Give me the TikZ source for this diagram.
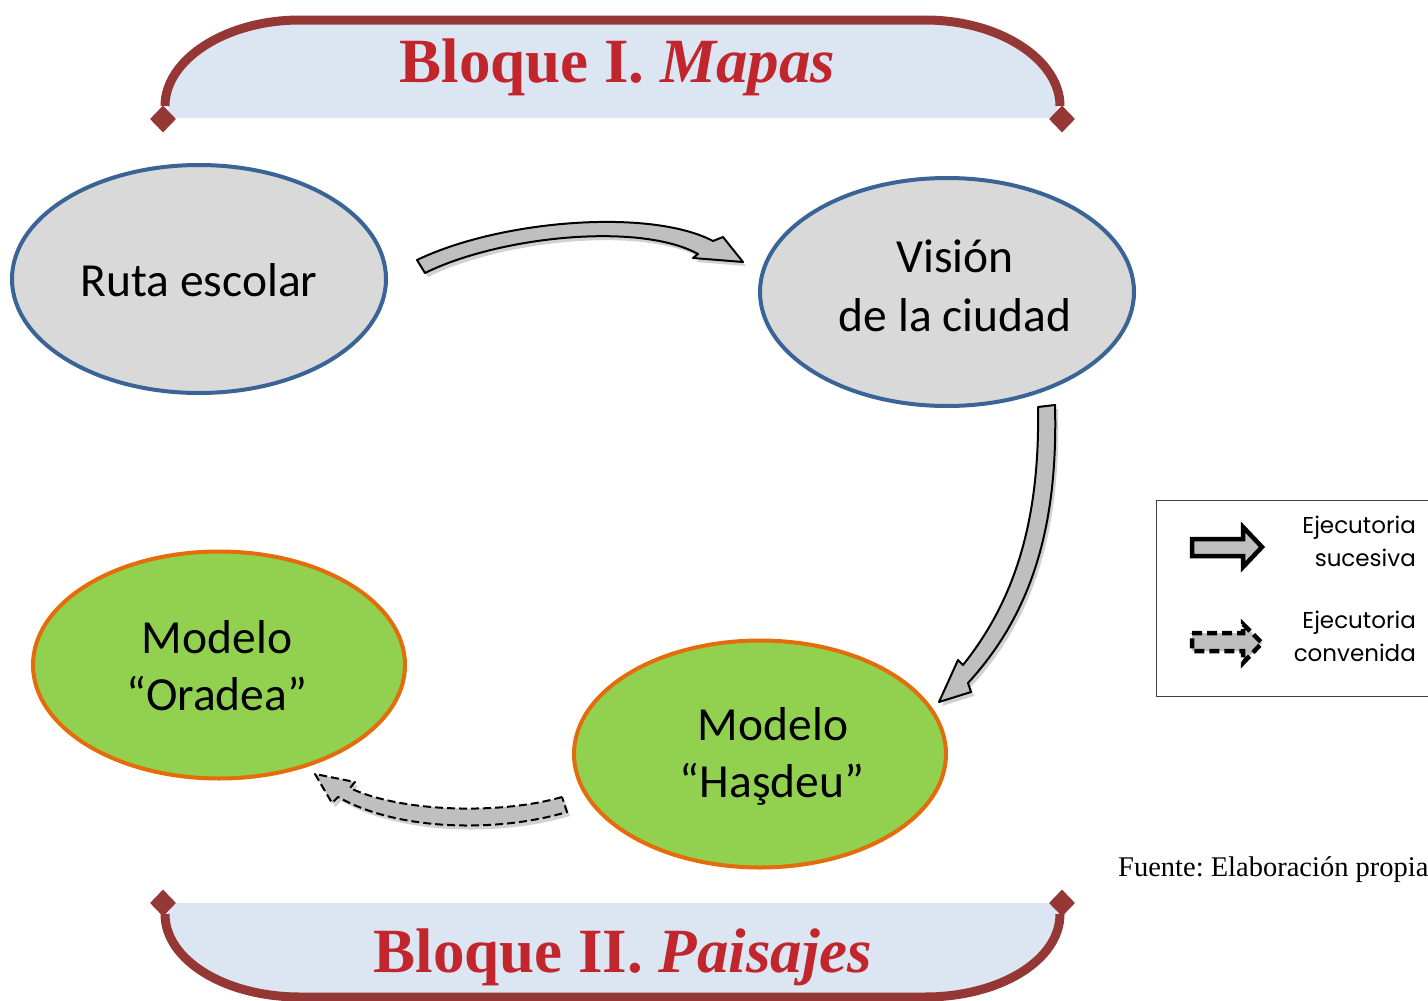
\documentclass[tikz,border=0pt]{standalone}
\usepackage{fontspec}
\setmainfont{Carlito}
\newfontfamily\legendfont{Poppins}
\newfontfamily\seriffont{Liberation Serif}
\usetikzlibrary{shapes.geometric}
\frenchspacing
\definecolor{bannerred}{HTML}{953735}
\definecolor{bannerfill}{HTML}{DCE6F2}
\definecolor{ellblue}{HTML}{3A6496}
\definecolor{ellgray}{HTML}{D9D9D9}
\definecolor{ellgreen}{HTML}{92D050}
\definecolor{ellorange}{HTML}{E46C0A}
\definecolor{arrowgray}{HTML}{BFBFBF}
\definecolor{titlered}{HTML}{C0262C}
\tikzset{
  grayell/.style={ellipse, draw=ellblue, line width=4pt, fill=ellgray, minimum width=374pt, minimum height=228pt, inner sep=0pt},
  greenell/.style={ellipse, draw=ellorange, line width=4pt, fill=ellgreen, minimum width=372pt, minimum height=227pt, inner sep=0pt},
  etext/.style={anchor=base, font=\fontsize{47.5}{57}\selectfont, inner sep=0pt},
  bannerline/.style={draw=bannerred, line width=9pt},
  bannerdiamond/.style={diamond, fill=bannerred, minimum width=26pt, minimum height=27pt, inner sep=0pt},
  titletext/.style={anchor=base, font=\seriffont\bfseries\fontsize{63}{70}\selectfont, text=titlered, inner sep=0pt},
  blockarrow/.style={fill=arrowgray, draw=black, line width=2pt, line join=round},
  dasharrow/.style={fill=arrowgray, draw=black, line width=2pt, dash pattern=on 8pt off 4pt, line join=round},
  arrowshadow/.style={fill=black, opacity=0.18, shift={(3,4)}},
  legendtext/.style={anchor=base east, font=\legendfont\fontsize{23}{26}\selectfont, inner sep=0pt},
}
\begin{document}
\begin{tikzpicture}[x=1pt,y=-1pt]
\useasboundingbox (0,0) rectangle (1428,1001);

% ---- top banner ----
\fill[bannerfill] (168,118) -- (168,112) .. controls (168,62) and (226,24) .. (300,24) -- (925,24) .. controls (999,24) and (1057,62) .. (1057,112) -- (1057,118) -- cycle;
\node[bannerdiamond] (tl) at (163,119) {};
\node[bannerdiamond] (tr) at (1062,119) {};
\draw[bannerline] (165,106) .. controls (165,60) and (225,20) .. (300,20) -- (925,20) .. controls (1000,20) and (1060,60) .. (1060,106);
\node[titletext] (t1) at (617.5,82) {Bloque I. \itshape Mapas};

% ---- bottom banner ----
\fill[bannerfill] (168,903) -- (168,908) .. controls (168,956) and (226,993) .. (300,993) -- (925,993) .. controls (999,993) and (1057,956) .. (1057,908) -- (1057,903) -- cycle;
\node[bannerdiamond] (bl) at (163,903) {};
\node[bannerdiamond] (br) at (1062,903) {};
\draw[bannerline] (165,914) .. controls (165,960) and (225,997) .. (300,997) -- (925,997) .. controls (1000,997) and (1060,960) .. (1060,914);
\node[titletext] (t2) at (623,972) {Bloque II. \itshape Paisajes};

% ---- ellipses ----
\node[grayell] (ruta) at (199,279) {};
\node[etext] (rutaT) at (199,296) {Ruta escolar};

\node[grayell] (vision) at (947,292) {};
\node[etext] (visionT1) at (955,272) {Visión};
\node[etext] (visionT2) at (955,331) {de la ciudad};

\node[greenell] (oradea) at (219,665) {};
\node[etext] (oradeaT1) at (217,653) {Modelo};
\node[etext] (oradeaT2) at (217,710) {“Oradea”};

\node[greenell] (hasdeu) at (760,754) {};
\node[etext] (hasdeuT1) at (773,740) {Modelo};
\node[etext] (hasdeuT2) at (772,797) {“Haşdeu”};

% ---- arrow ruta -> vision ----
\path[arrowshadow] (417,260) .. controls (500,220) and (650,208) .. (713,241) -- (723,237) -- (743,262) -- (693,258) -- (698,254) .. controls (640,222) and (500,236) .. (425,273) -- cycle;
\path[blockarrow] (417,260) .. controls (500,220) and (650,208) .. (713,241) -- (723,237) -- (743,262) -- (693,258) -- (698,254) .. controls (640,222) and (500,236) .. (425,273) -- cycle;

% ---- arrow vision -> hasdeu ----
\path[arrowshadow] (1038,407) -- (1055,405) .. controls (1058,520) and (1035,610) .. (968,683) -- (971,692) -- (939,702) -- (958,660) -- (963,665) .. controls (1015,600) and (1040,520) .. (1038,407) -- cycle;
\path[blockarrow] (1038,407) -- (1055,405) .. controls (1058,520) and (1035,610) .. (968,683) -- (971,692) -- (939,702) -- (958,660) -- (963,665) .. controls (1015,600) and (1040,520) .. (1038,407) -- cycle;

% ---- dashed arrow hasdeu -> oradea ----
\path[arrowshadow] (562,797) .. controls (500,815) and (400,812) .. (350,788) -- (355,782) -- (315,774) -- (332,803) -- (338,797) .. controls (400,832) and (500,832) .. (567,812) -- cycle;
\path[dasharrow] (562,797) .. controls (500,815) and (400,812) .. (350,788) -- (355,782) -- (315,774) -- (332,803) -- (338,797) .. controls (400,832) and (500,832) .. (567,812) -- cycle;

% ---- legend ----
\draw[black!75, line width=1pt] (1156,500) rectangle (1445,696);
\path[fill=arrowgray, draw=black, line width=4.5pt, line join=miter] (1192,539) -- (1243,539) -- (1243,527) -- (1262,547) -- (1243,567) -- (1243,556) -- (1192,556) -- cycle;
\path[fill=arrowgray, draw=black, line width=4.5pt, dash pattern=on 10pt off 5pt, line join=miter] (1192,633) -- (1243,633) -- (1243,624) -- (1262,643) -- (1243,663) -- (1243,651) -- (1192,651) -- cycle;
\node[legendtext] (l1a) at (1416,533) {Ejecutoria};
\node[legendtext] (l1b) at (1416,566) {sucesiva};
\node[legendtext] (l2a) at (1416,628) {Ejecutoria};
\node[legendtext] (l2b) at (1416,661) {convenida};

% ---- source ----
\node[anchor=base west, font=\seriffont\fontsize{28.5}{30}\selectfont, inner sep=0pt] (src) at (1118,876) {Fuente: Elaboración propia};
\end{tikzpicture}
\end{document}
